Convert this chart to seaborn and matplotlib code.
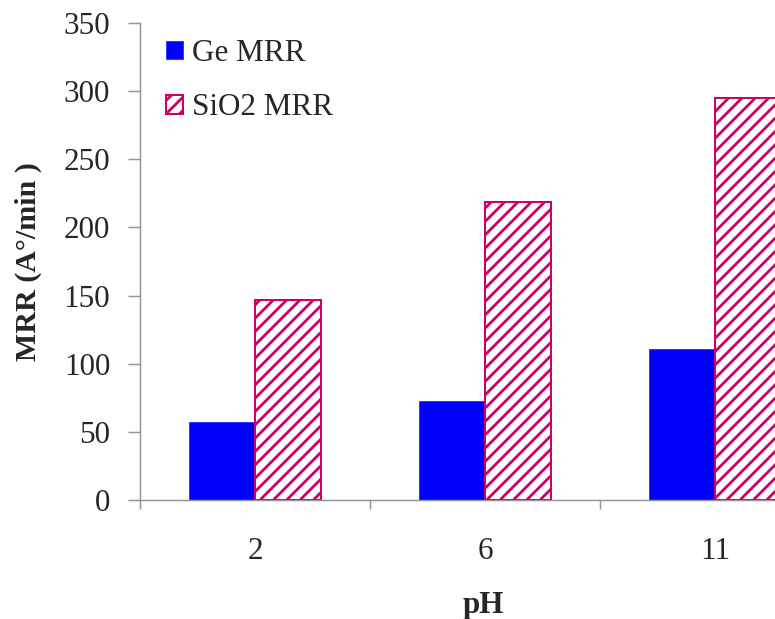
import matplotlib
matplotlib.use("Agg")
import matplotlib.pyplot as plt
import seaborn as sns
import pandas as pd

# Material removal rate vs slurry pH
ph_levels = ["2", "6", "11"]
ge_mrr = [57, 73, 111]
sio2_mrr = [147, 219, 295]
series_names = ["Ge MRR", "SiO2 MRR"]
y_ticks = [0, 50, 100, 150, 200, 250, 300, 350]

df = pd.DataFrame({
    "pH": ph_levels * 2,
    "MRR": ge_mrr + sio2_mrr,
    "Material": [series_names[0]] * 3 + [series_names[1]] * 3,
})

sns.set_theme(style="white")
plt.rcParams["font.family"] = ["Liberation Serif", "DejaVu Serif"]
plt.rcParams["hatch.linewidth"] = 2.5

DPI = 80
W, H = 775, 619
fig = plt.figure(figsize=(W / DPI, H / DPI), dpi=DPI)
ax = fig.add_axes([140 / W, (H - 500) / H, 690 / W, 477 / H])

blue = "#0000FF"
crimson = "#CC0066"
grey = "#939393"

sns.barplot(data=df, x="pH", y="MRR", hue="Material", order=ph_levels,
            hue_order=series_names, palette=[blue, crimson],
            width=0.574, gap=0, ax=ax, legend=False)

for bar in ax.containers[0]:
    bar.set_facecolor(blue)
    bar.set_edgecolor(blue)
    bar.set_linewidth(0.5)
for bar in ax.containers[1]:
    bar.set_facecolor("white")
    bar.set_edgecolor(crimson)
    bar.set_hatch("//")
    bar.set_linewidth(1.8)

ax.set_xlim(-0.5, 2.5)
ax.set_ylim(0, 350)
ax.set_yticks(y_ticks)

fs = 28
ax.tick_params(axis="y", which="major", direction="out", length=10.8,
               width=1.3, color=grey, pad=16, labelsize=fs, left=True)
ax.tick_params(axis="x", which="major", length=0, pad=33, labelsize=fs)
ax.set_xticks([-0.5, 0.5, 1.5, 2.5], minor=True)
ax.tick_params(axis="x", which="minor", direction="out", length=8,
               width=1.3, color=grey, bottom=True)

for side in ["top", "right"]:
    ax.spines[side].set_visible(False)
for side in ["left", "bottom"]:
    ax.spines[side].set_color(grey)
    ax.spines[side].set_linewidth(1.3)

ax.set_xlabel("pH", fontsize=fs, fontweight="bold")
ax.set_ylabel("MRR (A°/min )", fontsize=27, fontweight="bold")
ax.xaxis.set_label_coords(0.497, -0.19)
ax.yaxis.set_label_coords(-0.142, 0.5)

ax.legend(handles=[ax.containers[0], ax.containers[1]], labels=series_names,
          loc="upper left", bbox_to_anchor=(166 / W, 1 - 39 / H),
          bbox_transform=fig.transFigure, frameon=False, fontsize=fs,
          handlelength=0.55, handleheight=0.55, handletextpad=0.3,
          labelspacing=0.81, borderpad=0, borderaxespad=0)

fig.savefig("out.png", dpi=DPI)
